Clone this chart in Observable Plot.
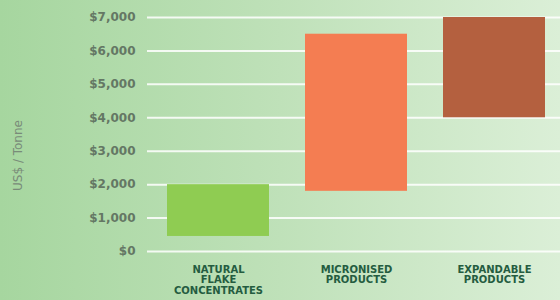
<!DOCTYPE html>
<html>
<head>
<meta charset="utf-8">
<script src="https://cdn.jsdelivr.net/npm/d3@7"></script>
<script src="https://cdn.jsdelivr.net/npm/@observablehq/plot@0.6"></script>
<style>
  html, body { margin: 0; padding: 0; }
  body { width: 560px; height: 300px; overflow: hidden;
         background: linear-gradient(to right, #a6d69f 0%, #bfe1b9 50%, #dbefd7 100%); }
  #chart svg { display: block; background: transparent; }
</style>
</head>
<body>
<div id="chart"></div>
<script>
const categories = ["NATURAL\nFLAKE\nCONCENTRATES", "MICRONISED\nPRODUCTS", "EXPANDABLE\nPRODUCTS"];
const lowValues = [450, 1800, 4000];
const highValues = [2000, 6500, 7000];
const barColors = ["#8fcc52", "#f47d52", "#b4603f"];
const yTicks = [0, 1000, 2000, 3000, 4000, 5000, 6000, 7000];
const yTitle = "US$ / Tonne";

const data = categories.map((c, i) => ({category: c, low: lowValues[i], high: highValues[i], color: barColors[i]}));

const chart = Plot.plot({
  width: 560,
  height: 300,
  marginLeft: 147,
  marginRight: 0,
  marginTop: 17,
  marginBottom: 49,
  style: {background: "transparent", fontFamily: "DejaVu Sans, sans-serif"},
  x: {domain: categories, paddingInner: 0.26, paddingOuter: 0.122, align: 0.564, label: null},
  y: {domain: [0, 7000], label: null},
  marks: [
    Plot.gridY(yTicks, {stroke: "#ffffff", strokeOpacity: 0.85, strokeWidth: 2}),
    Plot.barY(data, {x: "category", y1: "low", y2: "high", fill: "color"}),
    Plot.axisY(yTicks, {
      tickSize: 0, tickPadding: 12, label: null,
      tickFormat: d => "$" + d3.format(",")(d),
      fontSize: 12, fontWeight: "bold", fill: "#647764"
    }),
    Plot.axisX({
      tickSize: 0, tickPadding: 14, label: null,
      fontSize: 10, fontWeight: "bold", fill: "#245c40", lineHeight: 1.05
    }),
    Plot.text([yTitle], {
      frameAnchor: "left", rotate: -90, dx: -129, dy: 21, textAnchor: "middle",
      fontSize: 12, fill: "#798b79", text: d => d
    })
  ]
});
document.getElementById("chart").append(chart);
</script>
</body>
</html>
